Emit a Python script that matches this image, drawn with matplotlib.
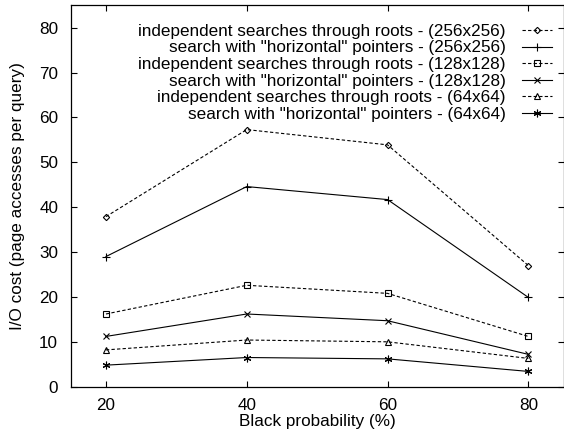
import matplotlib
matplotlib.use("Agg")
import matplotlib.pyplot as plt

plt.rcParams['font.family'] = ['Liberation Sans', 'DejaVu Sans']

black_prob = [20, 40, 60, 80]

indep_256 = [37.9, 57.3, 53.9, 27.0]
horiz_256 = [29.0, 44.6, 41.7, 19.9]
indep_128 = [16.2, 22.6, 20.8, 11.2]
horiz_128 = [11.2, 16.2, 14.7, 7.2]
indep_64 = [8.2, 10.4, 10.0, 6.3]
horiz_64 = [4.8, 6.5, 6.2, 3.4]

labels = [
    'independent searches through roots - (256x256)',
    'search with "horizontal" pointers - (256x256)',
    'independent searches through roots - (128x128)',
    'search with "horizontal" pointers - (128x128)',
    'independent searches through roots - (64x64)',
    'search with "horizontal" pointers - (64x64)',
]

series = [indep_256, horiz_256, indep_128, horiz_128, indep_64, horiz_64]
markers = ['D', '+', 's', 'x', '^', (6, 2, 0)]
msizes = [3.2, 6, 4.5, 5, 4.5, 5.5]

fs = 12.3

fig = plt.figure(figsize=(5.64, 4.32), dpi=100)
ax = fig.add_axes([0.1254, 0.1049, 0.8738, 0.8828])

for i, (ys, lab) in enumerate(zip(series, labels)):
    dashed = (i % 2 == 0)
    ax.plot(black_prob, ys, color='black', lw=0.8,
            linestyle=(0, (3, 2)) if dashed else '-',
            marker=markers[i], markersize=msizes[i],
            markerfacecolor='none', markeredgecolor='black',
            markeredgewidth=0.8, label=lab)

ax.set_xlim(15, 85)
ax.set_ylim(0, 85)
ax.set_xticks(black_prob)
ax.set_yticks(range(0, 81, 10))
ax.tick_params(direction='in', top=True, right=True, length=4.5, width=0.8,
               labelsize=fs)
ax.tick_params(axis='y', pad=9)
ax.tick_params(axis='x', pad=8)
for s in ax.spines.values():
    s.set_linewidth(0.9)

ax.set_xlabel('Black probability (%)', fontsize=fs, labelpad=1)
ax.set_ylabel('I/O cost (page accesses per query)', fontsize=fs, labelpad=10)

ax.legend(loc='upper right', bbox_to_anchor=(1 - 6 / 493, 1 - 13.5 / 381),
          frameon=False, markerfirst=False, fontsize=fs,
          handlelength=1.8, handletextpad=0.95, labelspacing=0.09,
          borderaxespad=0, borderpad=0.3)

fig.savefig('out.png', dpi=100)
